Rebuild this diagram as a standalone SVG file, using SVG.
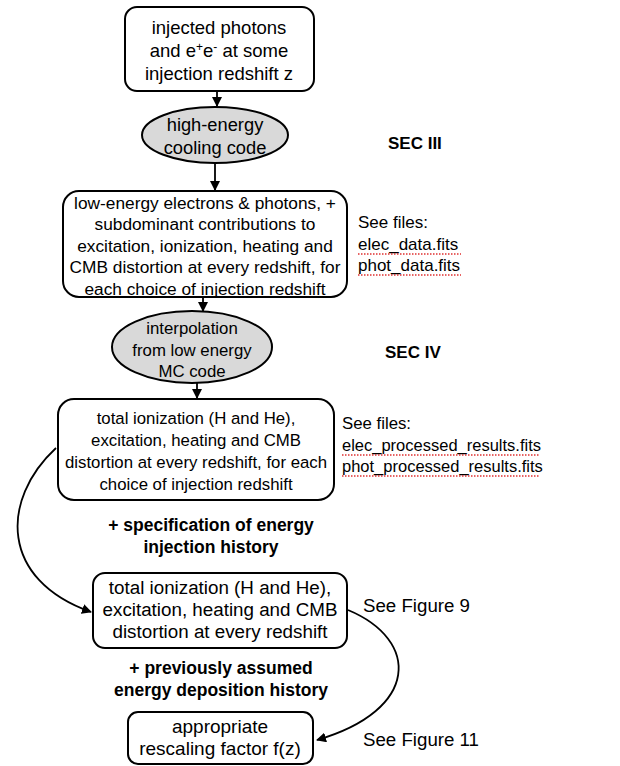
<svg xmlns="http://www.w3.org/2000/svg" width="620" height="766" viewBox="0 0 620 766" font-size="18">
<style>
.box{fill:#fff;stroke:#000;stroke-width:2}
.ell{fill:#d9d9d9;stroke:#000;stroke-width:2}
text{font-family:"Liberation Sans",Arial,sans-serif;fill:#000}
.c{text-anchor:middle}
.b{font-weight:bold}
.conn{fill:none;stroke:#000;stroke-width:1.8}
.sq{stroke:#e03030;stroke-width:1.5;stroke-dasharray:1.5 1.5;fill:none}
</style>
<defs>
<marker id="ah" markerWidth="10" markerHeight="10" refX="9" refY="5" orient="auto" markerUnits="userSpaceOnUse">
<path d="M0,0 L10,5 L0,10 Z" fill="#000"/>
</marker>
</defs>
<rect width="620" height="766" fill="#fff"/>
<g id="connectors">
<line class="conn" x1="217" y1="91" x2="217" y2="106" marker-end="url(#ah)"/>
<line class="conn" x1="215" y1="163" x2="215" y2="190" marker-end="url(#ah)"/>
<line class="conn" x1="203" y1="297" x2="203" y2="311" marker-end="url(#ah)"/>
<line class="conn" x1="197" y1="383" x2="197" y2="398" marker-end="url(#ah)"/>
<path class="conn" d="M56,448 C 0,500 0,580 91,612" marker-end="url(#ah)"/>
<path class="conn" d="M348,610 C 420,640 420,710 317,740" marker-end="url(#ah)"/>
</g>
<g id="n1" font-size="18.5">
<rect class="box" x="125" y="7" width="189" height="84" rx="12"/>
<text class="c" x="219" y="34">injected photons</text>
<text class="c" x="219" y="57">and e<tspan font-size="12" dy="-6">+</tspan><tspan dy="6">e</tspan><tspan font-size="12" dy="-6">-</tspan><tspan dy="6"> at some</tspan></text>
<text class="c" x="219" y="80">injection redshift z</text>
</g>
<g id="n2" font-size="18.3">
<ellipse class="ell" cx="215" cy="135" rx="73" ry="28"/>
<text class="c" x="215" y="131">high-energy</text>
<text class="c" x="215" y="154">cooling code</text>
</g>
<text class="b" x="388" y="149" font-size="17">SEC III</text>
<g id="n3" font-size="17.3">
<rect class="box" x="63" y="191" width="284" height="106" rx="16"/>
<text class="c" x="205" y="209">low-energy electrons &amp; photons, +</text>
<text class="c" x="205" y="230">subdominant contributions to</text>
<text class="c" x="205" y="252">excitation, ionization, heating and</text>
<text class="c" x="205" y="273">CMB distortion at every redshift, for</text>
<text class="c" x="205" y="295">each choice of injection redshift</text>
</g>
<g id="files1" font-size="17">
<text x="358" y="228">See files:</text>
<text x="358" y="250">elec_data.fits</text>
<text x="358" y="271">phot_data.fits</text>
<line class="sq" x1="358" y1="254" x2="461" y2="254"/>
<line class="sq" x1="358" y1="275" x2="461" y2="275"/>
</g>
<g id="n4" font-size="16.8">
<ellipse class="ell" cx="192" cy="347" rx="80" ry="36"/>
<text class="c" x="192" y="334">interpolation</text>
<text class="c" x="192" y="356">from low energy</text>
<text class="c" x="192" y="377">MC code</text>
</g>
<text class="b" x="385" y="358" font-size="17">SEC IV</text>
<g id="n5" font-size="16.8">
<rect class="box" x="58" y="399" width="276" height="101" rx="16"/>
<text class="c" x="196" y="424">total ionization (H and He),</text>
<text class="c" x="196" y="446">excitation, heating and CMB</text>
<text class="c" x="196" y="468">distortion at every redshift, for each</text>
<text class="c" x="196" y="490">choice of injection redshift</text>
</g>
<g id="files2" font-size="16.5">
<text x="342" y="429" font-size="16.8">See files:</text>
<text x="342" y="451">elec_processed_results.fits</text>
<text x="342" y="472">phot_processed_results.fits</text>
<line class="sq" x1="342" y1="455" x2="540" y2="455"/>
<line class="sq" x1="342" y1="476" x2="540" y2="476"/>
</g>
<g font-size="17.5">
<text class="c b" x="211" y="531">+ specification of energy</text>
<text class="c b" x="211" y="553">injection history</text>
</g>
<g id="n6" font-size="18.8">
<rect class="box" x="93" y="573" width="254" height="75" rx="12"/>
<text class="c" x="220" y="594">total ionization (H and He),</text>
<text class="c" x="220" y="616">excitation, heating and CMB</text>
<text class="c" x="220" y="638">distortion at every redshift</text>
</g>
<text x="363" y="612" font-size="18.7">See Figure 9</text>
<g font-size="17.5">
<text class="c b" x="221" y="674">+ previously assumed</text>
<text class="c b" x="221" y="696">energy deposition history</text>
</g>
<g id="n7" font-size="19">
<rect class="box" x="128" y="712" width="185" height="52" rx="10"/>
<text class="c" x="220" y="733">appropriate</text>
<text class="c" x="220" y="755">rescaling factor f(z)</text>
</g>
<text x="363" y="746" font-size="18.7">See Figure 11</text>
</svg>
